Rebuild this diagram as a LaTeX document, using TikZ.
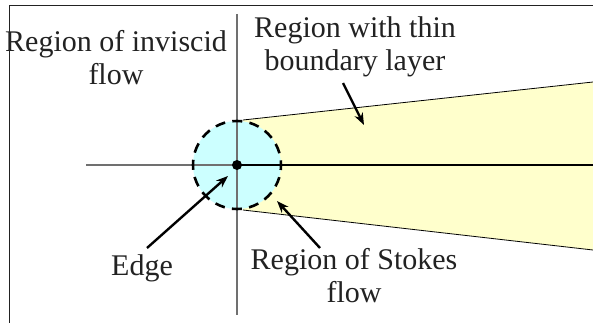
\documentclass[tikz,border=0pt]{standalone}
\usepackage{fontspec}
\setmainfont{Liberation Serif}
\usetikzlibrary{arrows.meta}
\definecolor{stokesfl}{HTML}{CCFFFF}
\definecolor{schicht}{HTML}{FFFFCC}
\definecolor{grau}{HTML}{707070}
\definecolor{schrift}{HTML}{222222}
\tikzset{
  pfeil/.style={-{Stealth[length=12pt,width=9pt]},line width=2.4pt},
  achse/.style={grau,line width=1.3pt},
  rand/.style={black,line width=0.8pt},
  rahmen/.style={schrift,line width=1.2pt},
  kreis/.style={black,line width=2.6pt,dash pattern=on 10pt off 7.3pt,dash phase=5pt},
  beschr/.style={schrift,align=center,inner sep=0pt,font=\fontsize{30}{33}\selectfont},
}
\begin{document}
\begin{tikzpicture}[x=1pt,y=-1pt]
  \useasboundingbox (0,0) rectangle (593,323);
  % boundary layer wedge
  \fill[schicht] (243,120) -- (593,82) -- (593,250) -- (243,210) -- cycle;
  \draw[rand] (243,120) -- (593,82);
  \draw[rand] (243,210) -- (593,250);
  \coordinate (O) at (237,165);
  \fill[stokesfl] (O) circle (44);
  % axes and plate
  \draw[achse] (86,165) -- (O);
  \draw[achse] (237,14) -- (237,315);
  \draw[line width=2.8pt] (O) -- (593,165);
  \draw[kreis] (O) circle (44);
  \fill (O) circle (5);
  % labels
  \node[beschr] (inviscid) at (116,58) {Region of inviscid\\flow};
  \node[beschr] (thin) at (355,47) {Region with thin\\boundary layer};
  \node[beschr] (edge) at (142,268) {Edge};
  \node[beschr] (stokes) at (354,276) {Region of Stokes\\flow};
  \coordinate (t1) at (343,83);
  \coordinate (t2) at (364,125);
  \coordinate (e1) at (147,248);
  \coordinate (e2) at (228,176);
  \coordinate (s1) at (320,248);
  \coordinate (s2) at (277,201);
  \draw[pfeil] (t1) -- (t2);
  \draw[pfeil] (e1) -- (e2);
  \draw[pfeil] (s1) -- (s2);
  % frame
  \draw[rahmen] (9.5,323) -- (9.5,5.5) -- (593,5.5);
\end{tikzpicture}
\end{document}
